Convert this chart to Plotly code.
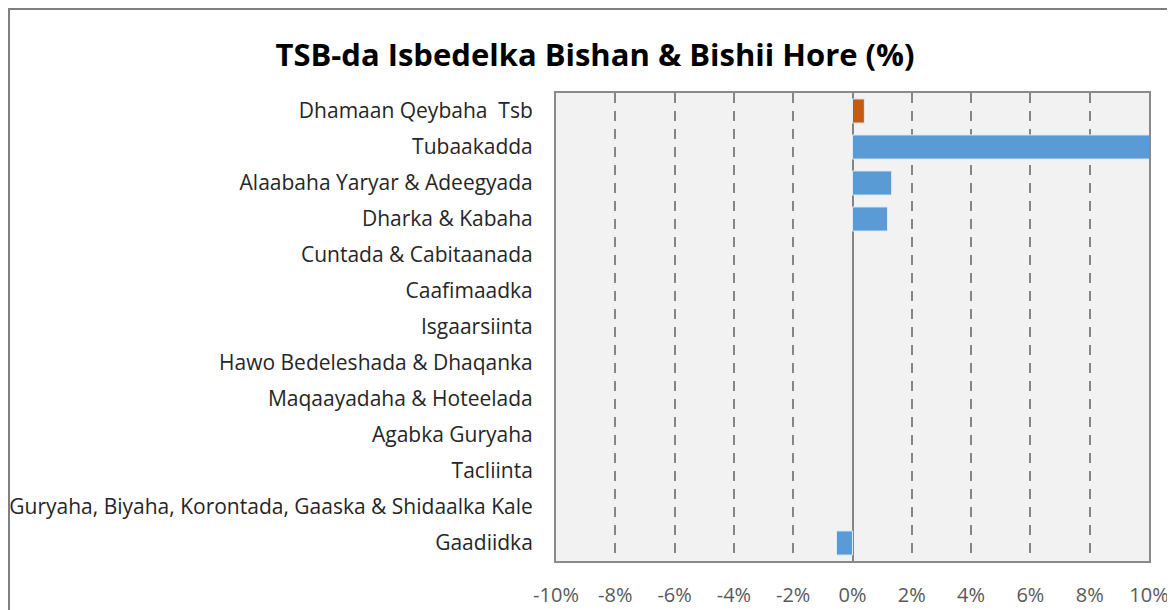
import plotly.graph_objects as go

categories = [
    "Dhamaan Qeybaha  Tsb",
    "Tubaakadda",
    "Alaabaha Yaryar & Adeegyada",
    "Dharka & Kabaha",
    "Cuntada & Cabitaanada",
    "Caafimaadka",
    "Isgaarsiinta",
    "Hawo Bedeleshada & Dhaqanka",
    "Maqaayadaha & Hoteelada",
    "Agabka Guryaha",
    "Tacliinta",
    "Guryaha, Biyaha, Korontada, Gaaska & Shidaalka Kale",
    "Gaadiidka",
]
values = [0.40, 11.0, 1.32, 1.18, 0.0, 0.0, 0.0, 0.0, 0.0, 0.0, 0.0, 0.0, -0.54]
bar_colors = ["#C55A11"] + ["#5B9BD5"] * 12
tick_vals = [-10, -8, -6, -4, -2, 0, 2, 4, 6, 8, 10]
tick_text = ["-10%", "-8%", "-6%", "-4%", "-2%", "0%", "2%", "4%", "6%", "8%", "10%"]

outline_widths = [1 if v != 0 else 0 for v in values]

fig = go.Figure(go.Bar(
    x=values, y=categories, orientation="h",
    marker=dict(color=bar_colors, line=dict(color="#DDEBF7", width=outline_widths)),
    cliponaxis=True,
))

# page body has an 8px margin; figure coordinates are window minus 8
W, H = 1167, 602
L, R, T, B = 548, 26, 85, 49
PW, PH = W - L - R, H - T - B

font_family = "Open Sans"
fig.update_layout(
    width=W, height=H,
    margin=dict(l=L, r=R, t=T, b=B, autoexpand=False),
    paper_bgcolor="white", plot_bgcolor="#F2F2F2",
    bargap=0.33,
    showlegend=False,
    title=dict(text="<b>TSB-da Isbedelka Bishan & Bishii Hore (%)</b>",
               x=587/W, xanchor="center", y=1-47/H, yanchor="middle",
               font=dict(family=font_family, size=31, color="black")),
    font=dict(family=font_family),
)
fig.update_xaxes(
    range=[-10, 10], tickvals=tick_vals, ticktext=tick_text,
    showgrid=True, gridcolor="#858585", gridwidth=1.8, griddash="10px,8px",
    zeroline=True, zerolinecolor="#858585", zerolinewidth=2,
    showline=True, linecolor="#8A8A8A", linewidth=2, mirror=True,
    ticks="", ticklabelstandoff=15, tickfont=dict(size=20, color="#595959"),
    fixedrange=True, automargin=False,
)
fig.update_yaxes(
    autorange="reversed", showgrid=False, zeroline=False,
    showline=True, linecolor="#8A8A8A", linewidth=2, mirror=True,
    ticks="", ticklabelstandoff=17, automargin=False,
    tickfont=dict(size=21, color="#262626"),
)
fig.add_shape(type="rect", xref="paper", yref="paper",
              x0=(1 - L)/PW, x1=(W + 20 - L)/PW,
              y0=(T + PH - (H + 20))/PH, y1=(T + PH - 1)/PH,
              line=dict(color="#7F7F7F", width=2), layer="below")
fig.write_html("out.html")
